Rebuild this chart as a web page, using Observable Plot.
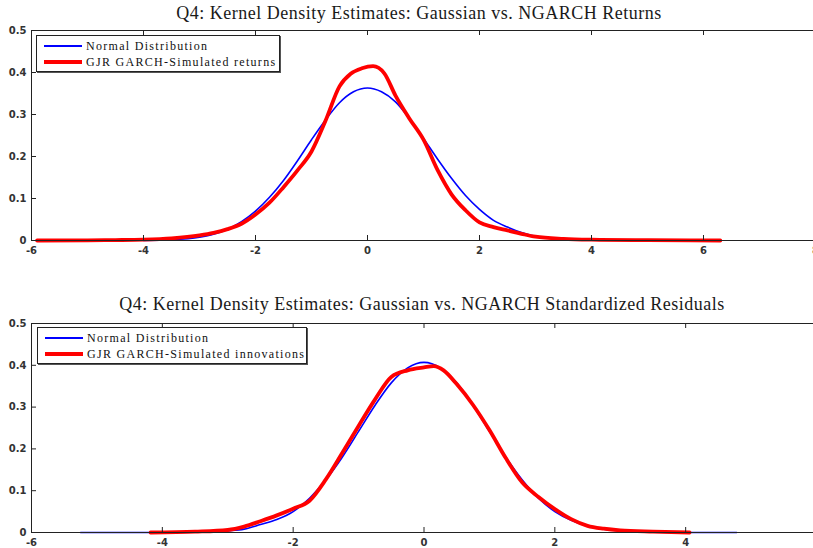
<!DOCTYPE html>
<html>
<head>
<meta charset="utf-8">
<script src="https://cdn.jsdelivr.net/npm/d3@7"></script>
<script src="https://cdn.jsdelivr.net/npm/@observablehq/plot@0.6"></script>
<style>
  body { margin: 0; background: #fff; }
  #page { position: relative; width: 813px; height: 548px; overflow: hidden; background: #fff; }
  #page svg { max-width: none !important; }
  .panel { position: absolute; left: 0; }
  .title { position: absolute; left: 0; text-align: center; white-space: nowrap;
           font-family: "Liberation Serif", serif; font-size: 18px; color: #1a1a1a; letter-spacing: 0.5px; }
  .legend { position: absolute; box-sizing: border-box; border: 1px solid #222; background: #fff;
            box-shadow: 1px 1px 0 #555; font-family: "Liberation Serif", serif; font-size: 12px; color: #111; }
  .legend .row { position: absolute; left: 0; height: 14px; line-height: 14px; white-space: nowrap; letter-spacing: 1.3px; }
  .legend .sw { position: absolute; left: 7px; width: 38px; top: 7px; }
  .legend .lab { position: absolute; left: 49px; top: 0; }
</style>
</head>
<body>
<div id="page"></div>
<script>
// Panel 1: kernel density of simulated GJR-GARCH returns vs. a fitted normal
const retNormX = [-4, -3.5, -3, -2.75, -2.5, -2.25, -2, -1.75, -1.5, -1.25, -1, -0.75, -0.5, -0.25, 0, 0.25, 0.5, 0.75, 1, 1.25, 1.5, 1.75, 2, 2.25, 2.5, 2.75, 3, 3.5, 4];
const retNormY = [0.0003, 0.002, 0.008, 0.015, 0.027, 0.045, 0.07, 0.103, 0.143, 0.19, 0.24, 0.287, 0.328, 0.354, 0.363, 0.354, 0.33, 0.29, 0.243, 0.194, 0.148, 0.107, 0.074, 0.048, 0.032, 0.019, 0.01, 0.003, 0.0005];
const retSimX = [-5.9, -5, -4.5, -4, -3.5, -3, -2.75, -2.5, -2.25, -2, -1.75, -1.5, -1.25, -1, -0.75, -0.5, -0.3, -0.1, 0.1, 0.3, 0.5, 0.75, 1, 1.25, 1.5, 1.75, 2, 2.25, 2.5, 2.75, 3, 3.5, 4, 5, 6.3];
const retSimY = [0, 0.0005, 0.001, 0.002, 0.005, 0.012, 0.018, 0.027, 0.04, 0.062, 0.09, 0.127, 0.167, 0.212, 0.285, 0.367, 0.397, 0.41, 0.415, 0.398, 0.345, 0.29, 0.24, 0.168, 0.11, 0.072, 0.043, 0.032, 0.024, 0.016, 0.009, 0.004, 0.002, 0.0007, 0];
const retXTicks = [-6, -4, -2, 0, 2, 4, 6, 8];

// Panel 2: kernel density of standardized residuals vs. a fitted normal
const resNormX = [-5.25, -4.5, -4, -3.5, -3, -2.75, -2.5, -2.25, -2, -1.75, -1.5, -1.25, -1, -0.75, -0.5, -0.25, 0, 0.25, 0.5, 0.75, 1, 1.25, 1.5, 1.75, 2, 2.25, 2.5, 2.75, 3, 3.5, 4, 4.78];
const resNormY = [0, 0, 0.0001, 0.0007, 0.004, 0.008, 0.019, 0.031, 0.05, 0.082, 0.126, 0.18, 0.242, 0.304, 0.358, 0.394, 0.407, 0.394, 0.358, 0.304, 0.242, 0.18, 0.126, 0.082, 0.05, 0.029, 0.015, 0.008, 0.004, 0.0007, 0.0001, 0];
const resSimX = [-4.18, -3.5, -3, -2.75, -2.5, -2.25, -2, -1.75, -1.5, -1.25, -1, -0.75, -0.5, -0.25, 0, 0.15, 0.3, 0.5, 0.75, 1, 1.25, 1.5, 1.75, 2, 2.25, 2.5, 2.75, 3, 3.5, 4.06];
const resSimY = [0, 0.002, 0.006, 0.014, 0.027, 0.041, 0.057, 0.076, 0.127, 0.19, 0.255, 0.318, 0.372, 0.388, 0.395, 0.398, 0.388, 0.355, 0.305, 0.245, 0.178, 0.12, 0.085, 0.056, 0.032, 0.016, 0.009, 0.005, 0.002, 0];
const resXTicks = [-6, -4, -2, 0, 2, 4, 6];

const yTicks = [0, 0.1, 0.2, 0.3, 0.4, 0.5];

const titles = [
  "Q4: Kernel Density Estimates: Gaussian vs. NGARCH Returns",
  "Q4: Kernel Density Estimates: Gaussian vs. NGARCH Standardized Residuals"
];
const seriesNames = [
  ["Normal Distribution", "GJR GARCH-Simulated returns"],
  ["Normal Distribution", "GJR GARCH-Simulated innovations"]
];
const colors = ["#0000ff", "#ff0000"];

const page = document.getElementById("page");

const zip = (xs, ys) => xs.map((x, i) => ({x, y: ys[i]}));

function panel({normX, normY, simX, simY, xTicks, xMax, width, height, plotBottom, top}) {
  const marginTop = 30;
  const marginLeft = 31;
  const marginBottom = height - plotBottom;
  const xPerPx = (xMax + 6) / (width - marginLeft);
  const yPerPx = 0.5 / (plotBottom - marginTop);
  const tx = 5 * xPerPx, ty = 5 * yPerPx;
  const chart = Plot.plot({
    width, height, marginTop, marginLeft, marginRight: 0, marginBottom,
    style: {background: "transparent", overflow: "hidden"},
    x: {domain: [-6, xMax], label: null},
    y: {domain: [0, 0.5], label: null},
    marks: [
      Plot.line(zip(normX, normY), {x: "x", y: "y", stroke: colors[0], strokeWidth: 1.6, curve: "monotone-x"}),
      Plot.line(zip(simX, simY), {x: "x", y: "y", stroke: colors[1], strokeWidth: 3.8, curve: "monotone-x"}),
      // inward ticks on all visible sides
      Plot.ruleX(xTicks, {x: d => d, y1: 0, y2: ty, stroke: "#222", strokeWidth: 1}),
      Plot.ruleX(xTicks, {x: d => d, y1: 0.5, y2: 0.5 - ty, stroke: "#222", strokeWidth: 1}),
      Plot.ruleY(yTicks, {y: d => d, x1: -6, x2: -6 + tx, stroke: "#222", strokeWidth: 1}),
      Plot.frame({stroke: "#222", strokeWidth: 1}),
      Plot.axisX({ticks: xTicks, tickSize: 0, tickPadding: 6, tickFormat: d => String(d), label: null,
                  fontSize: 10, fontFamily: "DejaVu Sans", fill: "#333", fontWeight: "bold"}),
      Plot.axisY({ticks: yTicks, tickSize: 0, tickPadding: 5, tickFormat: d => String(d), label: null,
                  fontSize: 10, fontFamily: "DejaVu Sans", fill: "#333", fontWeight: "bold"})
    ]
  });
  chart.classList.add("panel");
  chart.style.top = top + "px";
  page.appendChild(chart);
}

function addTitle(text, center, topPx) {
  const d = document.createElement("div");
  d.className = "title";
  d.textContent = text;
  d.style.width = (center * 2) + "px";
  d.style.top = topPx + "px";
  page.appendChild(d);
}

function addLegend(names, left, top, w, h) {
  const box = document.createElement("div");
  box.className = "legend";
  Object.assign(box.style, {left: left + "px", top: top + "px", width: w + "px", height: h + "px"});
  names.forEach((name, i) => {
    const row = document.createElement("div");
    row.className = "row";
    row.style.top = (3 + i * 16) + "px";
    const sw = document.createElement("span");
    sw.className = "sw";
    sw.style.borderTop = (i === 0 ? 2 : 4) + "px solid " + colors[i];
    sw.style.top = (i === 0 ? 6 : 5) + "px";
    const lab = document.createElement("span");
    lab.className = "lab";
    lab.textContent = name;
    row.appendChild(sw);
    row.appendChild(lab);
    box.appendChild(row);
  });
  page.appendChild(box);
}

panel({normX: retNormX, normY: retNormY, simX: retSimX, simY: retSimY, xTicks: retXTicks,
       xMax: 8, width: 815, height: 268, plotBottom: 240, top: 0});
panel({normX: resNormX, normY: resNormY, simX: resSimX, simY: resSimY, xTicks: resXTicks,
       xMax: 6, width: 816, height: 255, plotBottom: 239, top: 293});

addTitle(titles[0], 419, 3);
addTitle(titles[1], 422, 294);
addLegend(seriesNames[0], 36, 35, 244, 37);
addLegend(seriesNames[1], 37, 327, 270, 37);
</script>
</body>
</html>
